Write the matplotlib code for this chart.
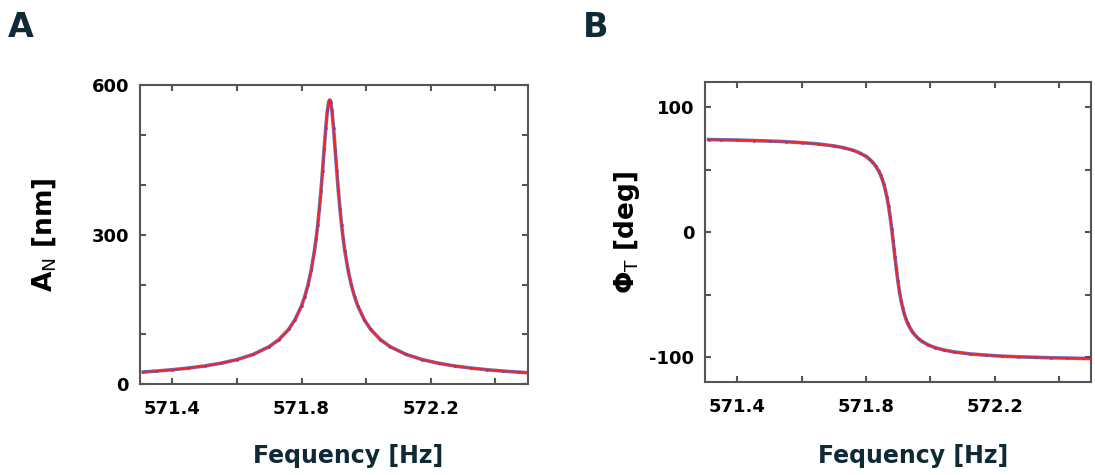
import numpy as np
import matplotlib
matplotlib.use("Agg")
import matplotlib.pyplot as plt

# ---- data ----
freq = [571.31, 571.35, 571.40, 571.45, 571.50, 571.55, 571.60, 571.65, 571.70,
        571.73, 571.76, 571.78, 571.80, 571.81, 571.82, 571.83, 571.84, 571.845,
        571.85, 571.855, 571.86, 571.865, 571.87, 571.875, 571.88, 571.884, 571.887,
        571.890, 571.894, 571.899, 571.904, 571.909, 571.914, 571.919, 571.924,
        571.929, 571.934, 571.944, 571.954, 571.964, 571.974, 571.994, 572.014,
        572.044, 572.074, 572.124, 572.174, 572.224, 572.274, 572.324, 572.374,
        572.424, 572.474, 572.50]
amp = [24.7, 26.5, 29.2, 32.6, 36.7, 42.2, 49.5, 59.8, 75.5,
       89.6, 110.0, 129.7, 157.4, 176.0, 199.3, 228.9, 267.7, 291.6,
       319.1, 350.9, 387.3, 427.9, 471.4, 513.9, 548.9, 565.9, 570.0,
       565.9, 548.9, 513.9, 471.4, 427.9, 387.3, 350.9, 319.1,
       291.6, 267.7, 228.9, 199.3, 176.0, 157.4, 129.7, 110.0,
       89.6, 75.5, 59.8, 49.5, 42.2, 36.7, 32.6, 29.2,
       26.5, 24.3, 23.2]
phase = [74.2, 74.0, 73.8, 73.4, 73.0, 72.5, 71.7, 70.7, 69.1,
         67.7, 65.6, 63.5, 60.7, 58.7, 56.2, 53.0, 48.7, 45.9,
         42.6, 38.7, 33.9, 28.0, 20.9, 12.3, 2.3, -6.5, -13.3,
         -20.1, -28.9, -38.9, -47.5, -54.7, -60.5, -65.3, -69.3,
         -72.5, -75.3, -79.6, -82.8, -85.3, -87.3, -90.2, -92.2,
         -94.3, -95.7, -97.3, -98.3, -99.1, -99.6, -100.0, -100.4,
         -100.6, -100.9, -101.0]

xticks = [571.4, 571.6, 571.8, 572.0, 572.2, 572.4]
xticklabels = ["571.4", "", "571.8", "", "572.2", ""]
yticks_a = [0, 100, 200, 300, 400, 500, 600]
yticklabels_a = ["0", "", "", "300", "", "", "600"]
yticks_b = [-100, -50, 0, 50, 100]
yticklabels_b = ["-100", "", "0", "", "100"]

# ---- style ----
W, H = 1095, 475
fig = plt.figure(figsize=(W / 100, H / 100), dpi=100)
plt.rcParams['font.family'] = ['DejaVu Sans']
plt.rcParams['mathtext.fontset'] = 'dejavusans'

spine_col = '#555555'
label_col = '#0f2a36'
blue = '#3b3b9c'
red = '#ff1f1f'


def style(ax, yt, ytl):
    ax.set_xlim(571.3, 572.5)
    ax.set_xticks(xticks)
    ax.set_xticklabels(xticklabels)
    ax.set_yticks(yt)
    ax.set_yticklabels(ytl)
    for s in ax.spines.values():
        s.set_color(spine_col)
        s.set_linewidth(1.5)
    ax.tick_params(direction='in', length=4, width=1.5, color=spine_col,
                   top=True, right=True, labelsize=13, pad=8)
    ax.tick_params(axis='x', pad=11)
    for t in ax.get_xticklabels() + ax.get_yticklabels():
        t.set_fontweight('bold')


def draw(ax, y):
    ax.plot(freq, y, color=blue, lw=2.6, alpha=0.75, zorder=2,
            solid_joinstyle='round')
    ax.plot(freq, y, linestyle='none', marker='.', ms=2.2, color=blue,
            alpha=0.6, zorder=2)
    ax.plot(freq, y, color=red, lw=1.3, zorder=3, solid_joinstyle='round')


# Panel A
axA = fig.add_axes([140 / W, 1 - 384.3 / H, 387.7 / W, 299.3 / H])
draw(axA, amp)
axA.set_ylim(0, 600)
style(axA, yticks_a, yticklabels_a)
axA.set_ylabel(r'$\mathbf{A}_{\mathsf{N}}$ [nm]', fontsize=19, fontweight='bold',
               color='black', va='center')
axA.yaxis.set_label_coords((44 - 140) / 387.7, 0.5)
axA.set_xlabel('Fequency [Hz]', fontsize=17, fontweight='bold', color=label_col,
               va='center')
axA.xaxis.set_label_coords((348 - 140) / 387.7, -(456 - 384.3) / 299.3)

# Panel B
axB = fig.add_axes([705.3 / W, 1 - 382.3 / H, 385.8 / W, 300 / H])
draw(axB, phase)
axB.set_ylim(-120, 120)
style(axB, yticks_b, yticklabels_b)
axB.set_ylabel(r'$\mathbf{\Phi}_{\mathsf{T}}$ [deg]', fontsize=19, fontweight='bold',
               color='black', va='center')
axB.yaxis.set_label_coords((627 - 705.3) / 385.8, 0.5)
axB.set_xlabel('Fequency [Hz]', fontsize=17, fontweight='bold', color=label_col,
               va='center')
axB.xaxis.set_label_coords((913 - 705.3) / 385.8, -(456 - 382.3) / 300)

# Panel letters
fig.text(8 / W, 1 - 37.3 / H, 'A', fontsize=24, fontweight='bold', color=label_col,
         ha='left', va='baseline')
fig.text(583 / W, 1 - 37.3 / H, 'B', fontsize=24, fontweight='bold', color=label_col,
         ha='left', va='baseline')

fig.savefig('out.png', dpi=100)
